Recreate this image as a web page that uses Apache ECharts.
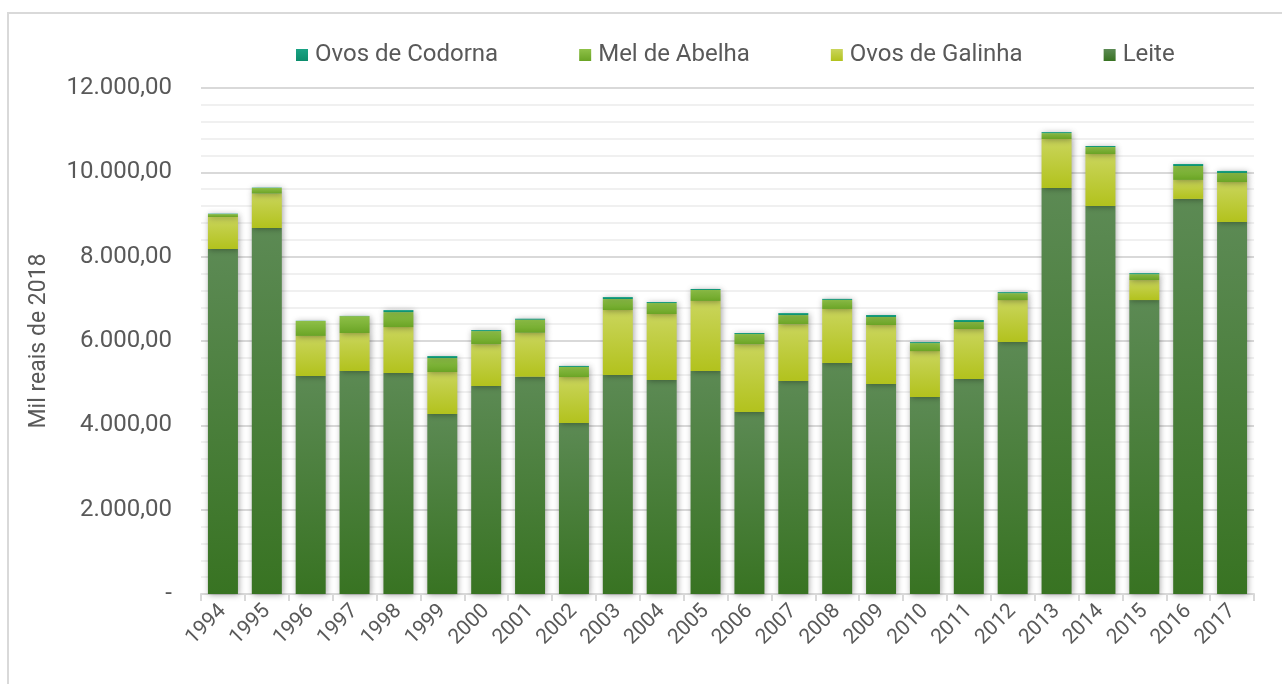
<!DOCTYPE html>
<html>
<head>
<meta charset="utf-8">
<script src="https://cdn.jsdelivr.net/npm/echarts@6/dist/echarts.min.js"></script>
<style>
  html, body { margin: 0; padding: 0; background: #fff; }
  #main { width: 1282px; height: 684px; }
</style>
</head>
<body>
<div id="main"></div>
<script>
// dados (mil reais de 2018)
var anos = ['1994', '1995', '1996', '1997', '1998', '1999', '2000', '2001', '2002', '2003', '2004', '2005',
    '2006', '2007', '2008', '2009', '2010', '2011', '2012', '2013', '2014', '2015', '2016', '2017'];
var leite = [8180, 8680, 5170, 5290, 5240, 4270, 4930, 5150, 4055, 5195, 5075, 5290,
    4315, 5050, 5480, 4980, 4670, 5100, 5975, 9630, 9200, 6970, 9370, 8820];
var ovosGalinha = [760, 815, 950, 900, 1090, 995, 995, 1045, 1090, 1540, 1565, 1660,
    1610, 1350, 1280, 1400, 1090, 1185, 995, 1160, 1235, 475, 450, 950];
var melAbelha = [70, 135, 355, 400, 355, 330, 310, 310, 240, 260, 260, 260,
    240, 215, 215, 190, 190, 165, 165, 140, 165, 140, 330, 215];
var ovosCodorna = [10, 8, 5, 5, 48, 48, 24, 24, 24, 47, 24, 24,
    24, 47, 24, 47, 24, 48, 24, 24, 24, 24, 48, 48];
var yTicks = [0, 2000, 4000, 6000, 8000, 10000, 12000];

var chartDom = document.getElementById('main');
var myChart = echarts.init(chartDom);

function grad(top, bottom) {
    return new echarts.graphic.LinearGradient(0, 0, 0, 1, [
        { offset: 0, color: top },
        { offset: 1, color: bottom }
    ]);
}

function fmt(v) {
    if (v === 0) return '-';
    return v.toString().replace(/\B(?=(\d{3})+(?!\d))/g, '.') + ',00';
}

var sombra = {
    shadowBlur: 6,
    shadowColor: 'rgba(0,0,0,0.35)',
    shadowOffsetX: 1,
    shadowOffsetY: 1
};

function serie(nome, dados, cor) {
    return {
        name: nome,
        type: 'bar',
        stack: 'total',
        data: dados,
        barWidth: 30,
        itemStyle: Object.assign({ color: cor }, sombra)
    };
}

var option = {
    animation: false,
    textStyle: { fontFamily: 'Roboto' },
    graphic: [{
        type: 'rect',
        shape: { x: 8, y: 13, width: 1300, height: 700 },
        style: { fill: 'none', stroke: '#d9d9d9', lineWidth: 2 },
        silent: true
    }],
    legend: {
        left: 291,
        top: 38,
        itemWidth: 12,
        itemHeight: 12,
        itemGap: 81,
        icon: 'rect',
        data: ['Ovos de Codorna', 'Mel de Abelha', 'Ovos de Galinha', 'Leite'],
        textStyle: { color: '#595959', fontSize: 24, padding: [0, 0, 0, 2] }
    },
    grid: { left: 201, right: 28, top: 88, bottom: 90 },
    xAxis: {
        type: 'category',
        data: anos,
        axisLine: { lineStyle: { color: '#d9d9d9', width: 2 } },
        axisTick: { show: true, length: 7, lineStyle: { color: '#d9d9d9', width: 2 } },
        axisLabel: { rotate: 45, color: '#595959', fontSize: 21, margin: 14 }
    },
    yAxis: {
        type: 'value',
        min: yTicks[0],
        max: yTicks[yTicks.length - 1],
        interval: 2000,
        name: 'Mil reais de 2018',
        nameLocation: 'middle',
        nameGap: 150,
        nameTextStyle: { color: '#595959', fontSize: 23 },
        axisLine: { show: false },
        axisTick: { show: false },
        axisLabel: { color: '#595959', fontSize: 24, margin: 29, formatter: fmt },
        splitLine: { lineStyle: { color: '#d9d9d9', width: 2 } },
        minorTick: { show: false, splitNumber: 5 },
        minorSplitLine: { show: true, lineStyle: { color: '#f0f0f0', width: 2 } }
    },
    series: [
        serie('Leite', leite, grad('#5c8a54', '#387322')),
        serie('Ovos de Galinha', ovosGalinha, grad('#cad55c', '#b2c21d')),
        serie('Mel de Abelha', melAbelha, grad('#8fc148', '#6aa425')),
        serie('Ovos de Codorna', ovosCodorna, grad('#1aa384', '#0c8d6c'))
    ]
};

option && myChart.setOption(option);
</script>
</body>
</html>
